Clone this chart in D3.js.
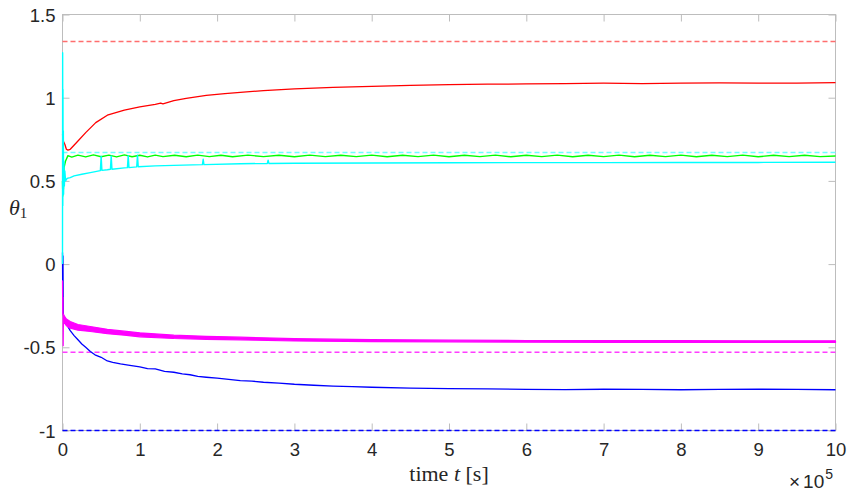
<!DOCTYPE html>
<html>
<head>
<meta charset="utf-8">
<script src="https://cdn.jsdelivr.net/npm/d3@7"></script>
<style>
  html, body { margin: 0; padding: 0; background: #fff; }
  svg { display: block; }
</style>
</head>
<body>
<svg id="chart" width="847" height="492"></svg>
<script>
// time in units of 1e5 s
const xTicks = [0, 1, 2, 3, 4, 5, 6, 7, 8, 9, 10];
const yTicks = [-1, -0.5, 0, 0.5, 1, 1.5];
const yTickLabels = ["-1", "-0.5", "0", "0.5", "1", "1.5"];

// reference levels (dashed)
const refNames = ["red", "cyan", "magenta", "blue"];
const refValues = [1.337, 0.670, -0.530, -1.0];

// red estimate
const redT = [0, 0.01, 0.03, 0.05, 0.07, 0.1, 0.14, 0.2, 0.3, 0.43, 0.58, 0.8, 1.0, 1.2, 1.27, 1.3, 1.44, 1.6, 1.86, 2.1, 2.3, 2.6, 3.0, 3.5, 4.0, 4.5, 5.0, 5.5, 6.0, 6.5, 7.0, 7.5, 8.0, 8.5, 9.0, 9.5, 10];
const redV = [0.78, 0.74, 0.72, 0.69, 0.685, 0.69, 0.71, 0.74, 0.79, 0.85, 0.895, 0.925, 0.945, 0.96, 0.968, 0.963, 0.982, 0.996, 1.014, 1.025, 1.032, 1.043, 1.053, 1.062, 1.068, 1.074, 1.079, 1.081, 1.083, 1.084, 1.087, 1.085, 1.087, 1.089, 1.088, 1.087, 1.09];

// green estimate
const greenT = [0, 0.004, 0.008, 0.012, 0.02, 0.04, 0.07, 0.12, 0.2, 0.3, 0.4, 0.5, 0.6, 0.7, 0.8, 0.9, 1.0, 1.1, 1.2, 1.3, 1.45, 1.6, 1.75, 1.9, 2.05, 2.2, 2.4, 2.6, 2.8, 3.0, 3.2, 3.4, 3.6, 3.8, 4.0, 4.2, 4.4, 4.6, 4.8, 5.0, 5.2, 5.4, 5.6, 5.8, 6.0, 6.2, 6.4, 6.6, 6.8, 7.0, 7.2, 7.4, 7.6, 7.8, 8.0, 8.2, 8.4, 8.6, 8.8, 9.0, 9.2, 9.4, 9.6, 9.8, 10];
const greenV = [0.5, 0.41, 0.6, 0.45, 0.58, 0.62, 0.652, 0.643, 0.655, 0.644, 0.656, 0.645, 0.655, 0.644, 0.656, 0.645, 0.654, 0.644, 0.655, 0.646, 0.654, 0.645, 0.655, 0.646, 0.654, 0.645, 0.655, 0.646, 0.654, 0.645, 0.655, 0.646, 0.654, 0.646, 0.655, 0.645, 0.654, 0.646, 0.655, 0.645, 0.654, 0.646, 0.655, 0.645, 0.654, 0.646, 0.655, 0.645, 0.654, 0.646, 0.655, 0.645, 0.654, 0.646, 0.655, 0.645, 0.654, 0.646, 0.655, 0.645, 0.654, 0.646, 0.654, 0.646, 0.65];

// cyan estimate
const cyanT = [0, 0.002, 0.004, 0.006, 0.008, 0.011, 0.014, 0.018, 0.024, 0.03, 0.04, 0.06, 0.1, 0.15, 0.25, 0.36, 0.49, 0.5, 0.51, 0.58, 0.62, 0.63, 0.64, 0.8, 0.84, 0.85, 0.86, 0.96, 0.97, 0.98, 1.2, 1.44, 1.81, 1.82, 1.83, 2.3, 2.65, 2.66, 2.67, 3.0, 4.0, 5.0, 6.0, 7.0, 8.0, 9.0, 10];
const cyanV = [0.0, 1.27, 0.35, 1.05, 0.45, 0.8, 0.42, 0.62, 0.47, 0.56, 0.5, 0.515, 0.52, 0.53, 0.54, 0.55, 0.562, 0.648, 0.563, 0.567, 0.57, 0.65, 0.57, 0.578, 0.58, 0.652, 0.58, 0.584, 0.655, 0.585, 0.59, 0.593, 0.598, 0.63, 0.598, 0.603, 0.605, 0.625, 0.605, 0.606, 0.608, 0.609, 0.61, 0.61, 0.611, 0.611, 0.612];

// magenta estimate (noisy band: upper / lower envelope)
const magentaT = [0, 0.003, 0.006, 0.009, 0.012, 0.02, 0.05, 0.1, 0.2, 0.36, 0.58, 0.8, 1.0, 1.44, 1.86, 2.3, 3.0, 4.0, 5.0, 6.0, 7.0, 8.0, 9.0, 10];
const magentaUp = [-0.1, -0.3, -0.2, -0.49, -0.30, -0.31, -0.33, -0.345, -0.363, -0.375, -0.392, -0.403, -0.413, -0.427, -0.434, -0.439, -0.448, -0.454, -0.457, -0.459, -0.46, -0.46, -0.461, -0.461];
const magentaLo = [-0.1, -0.3, -0.2, -0.49, -0.34, -0.35, -0.37, -0.385, -0.397, -0.405, -0.418, -0.427, -0.437, -0.447, -0.452, -0.455, -0.462, -0.466, -0.467, -0.469, -0.47, -0.47, -0.471, -0.471];

// blue estimate
const blueT = [0, 0.003, 0.006, 0.01, 0.02, 0.05, 0.1, 0.15, 0.2, 0.25, 0.3, 0.36, 0.42, 0.5, 0.58, 0.65, 0.75, 0.85, 1.0, 1.1, 1.2, 1.32, 1.44, 1.55, 1.65, 1.75, 1.86, 2.0, 2.15, 2.3, 2.45, 2.6, 2.8, 3.0, 3.25, 3.5, 3.75, 4.0, 4.5, 5.0, 5.5, 6.0, 6.5, 7.0, 7.5, 8.0, 8.5, 9.0, 9.5, 10];
const blueV = [0.07, -0.2, 0.05, -0.3, -0.33, -0.36, -0.40, -0.43, -0.455, -0.48, -0.50, -0.525, -0.545, -0.56, -0.582, -0.59, -0.6, -0.607, -0.618, -0.628, -0.63, -0.645, -0.65, -0.66, -0.665, -0.675, -0.68, -0.685, -0.693, -0.70, -0.703, -0.71, -0.715, -0.722, -0.728, -0.733, -0.736, -0.74, -0.745, -0.748, -0.75, -0.753, -0.754, -0.752, -0.753, -0.755, -0.753, -0.752, -0.753, -0.755];

const colors = { red: "#ff0000", green: "#00ff00", cyan: "#00ffff", magenta: "#ff00ff", blue: "#0000ff" };
const refColors = { red: "#ff6e6e", cyan: "#6effff", magenta: "#ff3dff", blue: "#0000ff" };

const svg = d3.select("#chart");
const plotLeft = 62.5, plotRight = 835.5, plotTop = 14.5, plotBottom = 430.5;

const x = d3.scaleLinear().domain([0, 10]).range([plotLeft, plotRight]);
const y = d3.scaleLinear().domain([-1, 1.5]).range([plotBottom, plotTop]);

const zip = (ts, vs) => ts.map((t, i) => [t, vs[i]]);
const line = d3.line().x(d => x(d[0])).y(d => y(d[1]));

// axes box with inward ticks (drawn first so the data sits on top)
const axisColor = "#bdbdbd";
const labelColor = "#262626";
const tickFont = "'Liberation Sans', Arial, Helvetica, sans-serif";

svg.append("rect")
  .attr("x", plotLeft).attr("y", plotTop)
  .attr("width", plotRight - plotLeft).attr("height", plotBottom - plotTop)
  .attr("fill", "none").attr("stroke", axisColor).attr("stroke-width", 1);

const axB = svg.append("g").attr("transform", `translate(0,${plotBottom})`)
  .call(d3.axisBottom(x).tickValues(xTicks).tickSizeInner(-7).tickSizeOuter(0).tickPadding(12).tickFormat(d3.format("d")));
const axT = svg.append("g").attr("transform", `translate(0,${plotTop})`)
  .call(d3.axisTop(x).tickValues(xTicks).tickSizeInner(-7).tickSizeOuter(0).tickFormat(""));
const axL = svg.append("g").attr("transform", `translate(${plotLeft},0)`)
  .call(d3.axisLeft(y).tickValues(yTicks).tickSizeInner(-7).tickSizeOuter(0).tickPadding(14)
    .tickFormat((d, i) => yTickLabels[i]));
const axR = svg.append("g").attr("transform", `translate(${plotRight},0)`)
  .call(d3.axisRight(y).tickValues(yTicks).tickSizeInner(-7).tickSizeOuter(0).tickFormat(""));

[axB, axT, axL, axR].forEach(a => {
  a.select(".domain").remove();
  a.selectAll(".tick line").attr("stroke", axisColor);
  a.selectAll(".tick text").attr("fill", labelColor)
    .style("font-family", tickFont).style("font-size", "18.5px");
});
axB.selectAll(".tick text").attr("dy", "0.71em").attr("y", 12);
axL.selectAll(".tick text").attr("x", -7).attr("dy", "0.36em");

const plot = svg.append("g");

// dashed reference levels
refNames.forEach((n, i) => {
  plot.append("line")
    .attr("x1", x(0)).attr("x2", x(10))
    .attr("y1", y(refValues[i])).attr("y2", y(refValues[i]))
    .attr("stroke", refColors[n]).attr("stroke-width", 1.5)
    .attr("stroke-dasharray", "5,3");
});

// blue
plot.append("path").datum(zip(blueT, blueV))
  .attr("d", line).attr("fill", "none")
  .attr("stroke", colors.blue).attr("stroke-width", 1.3).attr("stroke-linejoin", "round");

// magenta band
const band = magentaT.map((t, i) => [t, magentaUp[i], magentaLo[i]]);
plot.append("path").datum(band)
  .attr("d", d3.area().x(d => x(d[0])).y0(d => y(d[2])).y1(d => y(d[1])))
  .attr("fill", colors.magenta)
  .attr("stroke", colors.magenta).attr("stroke-width", 1.2).attr("stroke-linejoin", "round");

// red
plot.append("path").datum(zip(redT, redV))
  .attr("d", line).attr("fill", "none")
  .attr("stroke", colors.red).attr("stroke-width", 1.3).attr("stroke-linejoin", "round");

// green
plot.append("path").datum(zip(greenT, greenV))
  .attr("d", line).attr("fill", "none")
  .attr("stroke", colors.green).attr("stroke-width", 1.4).attr("stroke-linejoin", "round");

// cyan
plot.append("path").datum(zip(cyanT, cyanV))
  .attr("d", line).attr("fill", "none")
  .attr("stroke", colors.cyan).attr("stroke-width", 1.4).attr("stroke-linejoin", "round");

// x-axis exponent
const ex = svg.append("text").attr("x", 789).attr("y", 488)
  .attr("fill", labelColor).style("font-family", tickFont).style("font-size", "19px");
ex.append("tspan").text("\u00d7");
ex.append("tspan").attr("dx", 3).text("10");
ex.append("tspan").attr("dy", -9).attr("dx", 1).style("font-size", "14px").text("5");

// axis titles
const serif = "'Liberation Serif', 'Times New Roman', serif";
const xl = svg.append("text").attr("x", (plotLeft + plotRight) / 2).attr("y", 481)
  .attr("text-anchor", "middle").attr("fill", labelColor)
  .style("font-family", serif).style("font-size", "22px");
xl.append("tspan").text("time ");
xl.append("tspan").style("font-style", "italic").text("t");
xl.append("tspan").text(" [s]");

const yl = svg.append("text").attr("x", 9).attr("y", 215)
  .attr("fill", labelColor).style("font-family", serif).style("font-size", "22px");
yl.append("tspan").style("font-style", "italic").text("\u03b8");
yl.append("tspan").attr("dy", 3).style("font-size", "15px").text("1");
</script>
</body>
</html>
